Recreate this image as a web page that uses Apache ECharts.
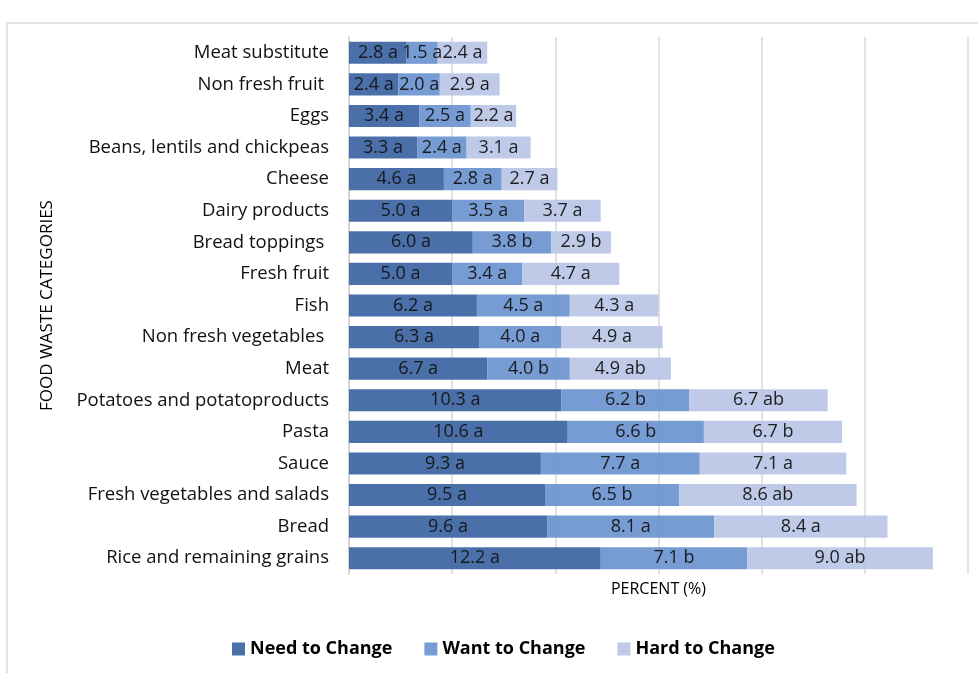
<!DOCTYPE html>
<html>
<head>
<meta charset="utf-8">
<script src="https://cdn.jsdelivr.net/npm/echarts@6/dist/echarts.min.js"></script>
<style>
  html, body { margin: 0; padding: 0; background: #fff; }
  #chart { width: 978px; height: 673px; }
</style>
</head>
<body>
<div id="chart"></div>
<script>
// Food waste categories, listed top to bottom
const categories = [
  'Meat substitute', 'Non fresh fruit ', 'Eggs', 'Beans, lentils and chickpeas',
  'Cheese', 'Dairy products', 'Bread toppings ', 'Fresh fruit', 'Fish',
  'Non fresh vegetables ', 'Meat', 'Potatoes and potatoproducts', 'Pasta',
  'Sauce', 'Fresh vegetables and salads', 'Bread', 'Rice and remaining grains'
];

// Percent values per group
const needToChange = [2.8, 2.4, 3.4, 3.3, 4.6, 5.0, 6.0, 5.0, 6.2, 6.3, 6.7, 10.3, 10.6, 9.3, 9.5, 9.6, 12.2];
const wantToChange = [1.5, 2.0, 2.5, 2.4, 2.8, 3.5, 3.8, 3.4, 4.5, 4.0, 4.0, 6.2, 6.6, 7.7, 6.5, 8.1, 7.1];
const hardToChange = [2.4, 2.9, 2.2, 3.1, 2.7, 3.7, 2.9, 4.7, 4.3, 4.9, 4.9, 6.7, 6.7, 7.1, 8.6, 8.4, 9.0];

// Significance letters shown next to each value
const needLetters = ['a','a','a','a','a','a','a','a','a','a','a','a','a','a','a','a','a'];
const wantLetters = ['a','a','a','a','a','a','b','a','a','a','b','b','b','a','b','a','b'];
const hardLetters = ['a','a','a','a','a','a','b','a','a','a','ab','ab','b','a','ab','a','ab'];

const seriesNames = ['Need to Change', 'Want to Change', 'Hard to Change'];
const FONT = '"Open Sans", sans-serif';

function makeSeries(name, values, letters, color) {
  return {
    name: name,
    type: 'bar',
    stack: 'total',
    barCategoryGap: '30%',
    data: values,
    itemStyle: { color: color, opacity: 0.93 },
    label: {
      show: true,
      position: 'inside',
      color: '#111',
      fontFamily: FONT,
      fontSize: 18,
      formatter: p => p.value.toFixed(1) + ' ' + letters[p.dataIndex]
    }
  };
}

const chart = echarts.init(document.getElementById('chart'), null, { renderer: 'canvas' });
chart.setOption({
  animation: false,
  backgroundColor: '#fff',
  textStyle: { fontFamily: FONT },
  graphic: [{
    type: 'rect',
    shape: { x: 7, y: 23, width: 1000, height: 700 },
    style: { fill: 'none', stroke: '#d9d9d9', lineWidth: 1.5 },
    silent: true
  }],
  legend: {
    data: seriesNames,
    left: 227,
    top: 635,
    itemWidth: 13,
    itemHeight: 13,
    itemGap: 32,
    icon: 'rect',
    textStyle: { fontSize: 18, fontWeight: 'bold', color: '#000', fontFamily: FONT }
  },
  grid: { left: 349, right: 10, top: 37, bottom: 99, containLabel: false },
  xAxis: {
    type: 'value',
    min: 0,
    max: 30,
    interval: 5,
    name: 'PERCENT (%)',
    nameLocation: 'middle',
    nameGap: 7,
    nameTextStyle: { fontSize: 16, color: '#000', verticalAlign: 'top' },
    axisLabel: { show: false },
    axisLine: { show: false },
    axisTick: { show: false },
    splitLine: { show: true, lineStyle: { color: '#d9d9d9', width: 1.5 } }
  },
  yAxis: {
    type: 'category',
    inverse: true,
    data: categories,
    name: 'FOOD WASTE CATEGORIES',
    nameLocation: 'middle',
    nameGap: 293,
    nameTextStyle: { fontSize: 17, color: '#000' },
    axisLine: { show: true, lineStyle: { color: '#d0d0d0', width: 1.5 } },
    axisTick: { show: false },
    axisLabel: { fontSize: 18.5, color: '#111', margin: 20 }
  },
  series: [
    makeSeries(seriesNames[0], needToChange, needLetters, '#3d65a3'),
    makeSeries(seriesNames[1], wantToChange, wantLetters, '#6d95d0'),
    makeSeries(seriesNames[2], hardToChange, hardLetters, '#bac5e6')
  ]
});
</script>
</body>
</html>
